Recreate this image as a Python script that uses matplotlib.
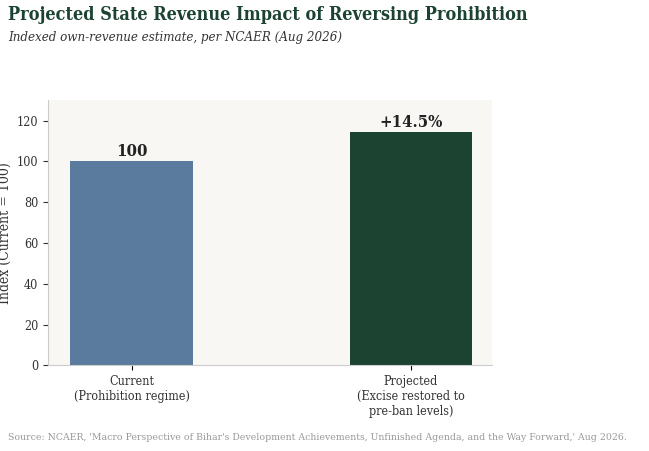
import matplotlib
matplotlib.use("Agg")
import matplotlib.pyplot as plt

categories = ["Current\n(Prohibition regime)", "Projected\n(Excise restored to\npre-ban levels)"]
values = [100, 114.5]
labels = ["100", "+14.5%"]
colors = ["#5a7a9e", "#1c4332"]

plt.rcParams["font.family"] = ["DejaVu Serif", "Liberation Serif"]
plt.rcParams["font.stretch"] = "condensed"

fig = plt.figure(figsize=(6.49, 4.51), dpi=100)
ax = fig.add_axes([0.074, 0.19, 0.684, 0.588])
ax.set_facecolor("#f8f7f4")

x = range(len(values))
ax.bar(x, values, width=0.44, color=colors)
for xi, v, lab in zip(x, values, labels):
    ax.text(xi, v + 0.5, lab, ha="center", va="bottom", fontsize=12,
            fontweight="bold", color="#222222")

ax.set_xlim(-0.3, 1.29)
ax.set_ylim(0, 130)
ax.set_yticks(range(0, 121, 20))
ax.set_xticks(list(x))
ax.set_xticklabels(categories, fontsize=9, color="#333333")
ax.tick_params(axis="y", labelsize=9, colors="#333333")
ax.set_ylabel("Index (Current = 100)", fontsize=10, color="#333333", labelpad=4)
for s in ["top", "right"]:
    ax.spines[s].set_visible(False)
for s in ["left", "bottom"]:
    ax.spines[s].set_color("#cccccc")

fig.text(0.012, 0.955, "Projected State Revenue Impact of Reversing Prohibition",
         fontsize=13, fontweight="bold", color="#1c4332")
fig.text(0.012, 0.91, "Indexed own-revenue estimate, per NCAER (Aug 2026)",
         fontsize=9.5, style="italic", color="#333333")
fig.text(0.012, 0.025,
         "Source: NCAER, 'Macro Perspective of Bihar's Development Achievements, Unfinished Agenda, and the Way Forward,' Aug 2026.",
         fontsize=7.5, color="#999999")

fig.savefig("out.png", dpi=100)
